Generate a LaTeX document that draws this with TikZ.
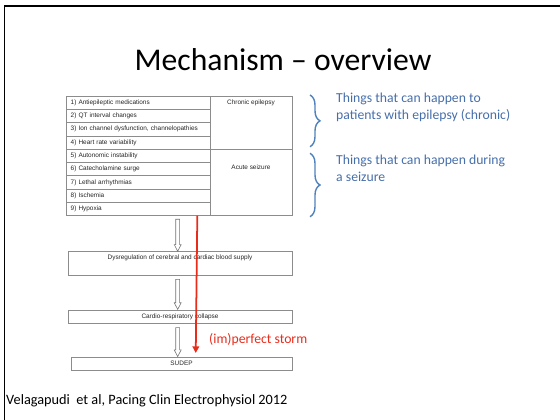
\documentclass[tikz,border=0pt]{standalone}
\usepackage{fontspec}
\setmainfont{Carlito}
\newfontfamily\tablefont{Liberation Sans}
\usetikzlibrary{positioning,calc,shapes.arrows,arrows.meta,decorations.pathreplacing}

\definecolor{linegray}{RGB}{140,140,140}
\definecolor{braceblue}{RGB}{79,129,189}
\definecolor{noteblue}{RGB}{70,110,170}
\definecolor{stormred}{RGB}{232,44,28}

\tikzset{
  cell/.style={draw=linegray, line width=0.6pt, inner ysep=0pt, inner xsep=0.14cm, outer sep=0pt,
    text width=4.04cm, align=left, minimum height=0.399cm, text=black!85,
    font=\tablefont\fontsize{5.5}{6}\selectfont},
  sidecell/.style={draw=linegray, line width=0.6pt, outer sep=0pt, minimum width=2.46cm},
  flowbox/.style={draw=linegray, line width=0.6pt, outer sep=0pt, inner sep=0pt, text=black!85,
    font=\tablefont\fontsize{5.5}{6}\selectfont, anchor=north west},
  smalltext/.style={inner sep=0pt, text=black!85, font=\tablefont\fontsize{5.5}{6}\selectfont},
  hollow/.style={single arrow, draw=black!55, fill=white, line width=0.5pt, rotate=-90,
    inner sep=0pt, text height=0.05cm, text depth=0.05cm,
    single arrow head extend=0.045cm, single arrow tip angle=55},
  storm/.style={draw=stormred, line width=1.5pt, -{Triangle[length=0.2cm, width=0.2cm]}, shorten >=0.12cm},
  bracket/.style={draw=braceblue, line width=1.2pt, decorate, decoration={brace, amplitude=0.3cm}},
  note/.style={inner sep=0pt, text=noteblue, align=left, font=\fontsize{11.7}{14.5}\selectfont}
}

\begin{document}
\begin{tikzpicture}[x=0.03cm, y=-0.03cm]
  \useasboundingbox (0,0) rectangle (560,420);
  % slide frame
  \draw[line width=1.7pt] (4.5,420) -- (4.5,6) -- (560,6);

  \node[anchor=base, inner sep=0pt, font=\fontsize{27}{32}\selectfont] (title) at (283,70.7) {Mechanism – overview};

  % table
  \node[cell, anchor=north west] (r1) at (66,96) {1) Antiepileptic medications};
  \node[cell, below=0pt of r1] (r2) {2) QT interval changes};
  \node[cell, below=0pt of r2] (r3) {3) Ion channel dysfunction, channelopathies};
  \node[cell, below=0pt of r3] (r4) {4) Heart rate variability};
  \node[cell, below=0pt of r4] (r5) {5) Autonomic instability};
  \node[cell, below=0pt of r5] (r6) {6) Catecholamine surge};
  \node[cell, below=0pt of r6] (r7) {7) Lethal arrhythmias};
  \node[cell, below=0pt of r7] (r8) {8) Ischemia};
  \node[cell, below=0pt of r8] (r9) {9) Hypoxia};
  \node[sidecell, anchor=north west, minimum height=1.596cm] (chronic) at (r1.north east) {};
  \node[sidecell, below=0pt of chronic, minimum height=1.995cm] (acute) {};
  \node[smalltext] (chronictext) at ($(chronic.north)+(0,-0.19cm)$) {Chronic epilepsy};
  \node[smalltext] (acutetext) at ($(acute.north)+(0,-0.525cm)$) {Acute seizure};

  % flow
  \node[flowbox, minimum width=6.72cm, minimum height=0.72cm] (dysreg) at (68,251) {};
  \node[smalltext] (dysregtext) at ($(dysreg.north)+(0,-0.2cm)$) {Dysregulation of cerebral and cardiac blood supply};
  \node[flowbox, minimum width=6.72cm, minimum height=0.4cm] (collapse) at (68,310) {Cardio-respiratory collapse};
  \node[flowbox, minimum width=6.63cm, minimum height=0.405cm] (sudep) at (71,357) {SUDEP};

  \coordinate (axis) at (177.7,0);
  \node[hollow, minimum height=0.96cm] (a1) at ($(axis |- r9.south)!0.5!(axis |- dysreg.north)$) {};
  \node[hollow, minimum height=0.9cm] (a2) at ($(axis |- dysreg.south)!0.5!(axis |- collapse.north)$) {};
  \node[hollow, minimum height=0.87cm] (a3) at ($(axis |- collapse.south)!0.5!(axis |- sudep.north)$) {};

  \coordinate (stormtop) at (197.3,215.7);
  \draw[storm] (stormtop) -- ([xshift=0.426cm]sudep.north);
  \node[anchor=west, inner sep=0pt, text=stormred, font=\fontsize{11.7}{14}\selectfont] (stormlabel) at (209,340) {(im)perfect storm};

  % braces and notes
  \draw[bracket] (310,95) -- (310,146.7);
  \draw[bracket] (310,153.3) -- (310,216.7);
  \node[note, anchor=base west] (chronicnote) at (336,119) {Things that can happen to\\patients with epilepsy (chronic)};
  \node[note, anchor=base west] (acutenote) at (336,181.7) {Things that can happen during\\a seizure};

  \node[anchor=base west, inner sep=0pt, font=\fontsize{12.2}{14}\selectfont] (source) at (6,404) {Velagapudi\ \ et al, Pacing Clin Electrophysiol 2012};
\end{tikzpicture}
\end{document}
